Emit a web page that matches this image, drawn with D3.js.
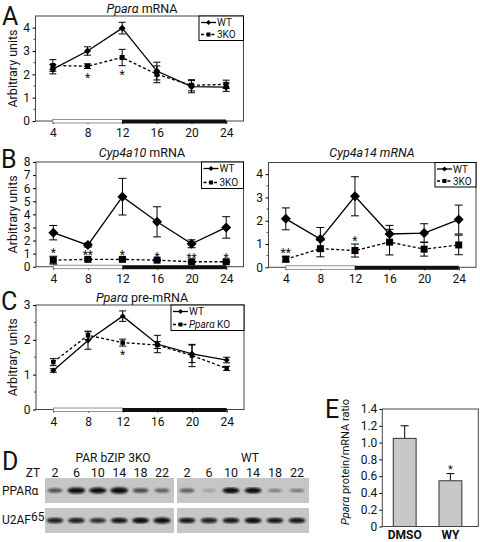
<!DOCTYPE html>
<html><head><meta charset="utf-8">
<script src="https://cdn.jsdelivr.net/npm/d3@7"></script>
<style>
body{margin:0;background:#fff}
svg{display:block}
text{font-family:Roboto,"Liberation Sans",Arial,sans-serif;fill:#111}
</style>
</head><body><svg id="c" width="480" height="542"></svg>
<script>
// ---------- DATA ----------
const hours = [4, 8, 12, 16, 20, 24];

// A: Ppar-alpha mRNA
const aWT = [2.22, 3.0, 3.98, 2.14, 1.47, 1.45];
const aWTErr = [0.2, 0.18, 0.25, 0.38, 0.26, 0.18];
const aKO = [2.38, 2.35, 2.72, 2.0, 1.53, 1.57];
const aKOErr = [0.25, 0.1, 0.35, 0.36, 0.24, 0.18];
const aStars = ["", "*", "*", "", "", ""];

// B left: Cyp4a10 mRNA
const b10WT = [2.6, 1.65, 5.35, 3.43, 1.75, 3.0];
const b10WTErr = [0.55, 0.15, 1.4, 1.15, 0.3, 0.82];
const b10KO = [0.5, 0.56, 0.56, 0.5, 0.38, 0.38];
const b10KOErr = [0.3, 0.08, 0.08, 0.05, 0.05, 0.05];
const b10Stars = ["*", "**", "*", "*", "**", "*"];

// B right: Cyp4a14 mRNA
const b14WT = [2.08, 1.21, 3.05, 1.43, 1.47, 2.05];
const b14WTErr = [0.47, 0.5, 0.84, 0.37, 0.4, 0.62];
const b14KO = [0.35, 0.8, 0.72, 1.08, 0.78, 0.96];
const b14KOErr = [0.12, 0.35, 0.28, 0.55, 0.3, 0.42];
const b14Stars = ["**", "", "*", "", "", ""];

// C: Ppar-alpha pre-mRNA
const cWT = [1.12, 1.98, 2.68, 1.88, 1.6, 1.42];
const cWTErr = [0.05, 0.25, 0.15, 0.25, 0.25, 0.08];
const cKO = [1.36, 2.13, 1.92, 1.85, 1.55, 1.18];
const cKOErr = [0.1, 0.12, 0.1, 0.1, 0.32, 0.06];
const cStars = ["", "", "*", "", "", ""];

// D: western blot (band intensity 0..1)
const ztLanes = ["2", "6", "10", "14", "18", "22"];
const pparKO = [0.5, 0.95, 0.9, 1.0, 0.55, 0.45];
const pparWT = [0.45, 0.1, 0.85, 0.85, 0.25, 0.3];
const u2afKO = [0.75, 0.75, 0.7, 0.8, 0.85, 0.9];
const u2afWT = [0.8, 0.75, 0.8, 0.85, 0.8, 0.8];

// E: protein/mRNA ratio
const eCats = ["DMSO", "WY"];
const eVals = [1.05, 0.545];
const eErr = [0.15, 0.085];
const eStars = ["", "*"];
const eTicks = [0, 0.2, 0.4, 0.6, 0.8, 1.0, 1.2, 1.4];

// ---------- DRAW ----------
const svg = d3.select("#c");
const FS = 12;

function richText(sel, parts) {
  parts.forEach(p => sel.append("tspan").text(p.t).attr("font-style", p.i ? "italic" : "normal"));
  return sel;
}
function letter(t, x, y) {
  svg.append("text").attr("x", x).attr("y", y).attr("font-size", 25).attr("font-family", "Liberation Sans, Arial, sans-serif").text(t);
}
const diamond = r => `M0,${-r}L${r},0L0,${r}L${-r},0Z`;
const square = s => `M${-s/2},${-s/2}h${s}v${s}h${-s}Z`;

function linePanel(cfg) {
  const x = d3.scaleLinear().domain([2, 26]).range([cfg.left, cfg.right]);
  const y = d3.scaleLinear().domain([0, cfg.ymax]).range([cfg.bottom, cfg.top]);
  const g = svg.append("g");
  g.append("rect").attr("x", cfg.left).attr("y", cfg.top)
    .attr("width", cfg.right - cfg.left).attr("height", cfg.bottom - cfg.top)
    .attr("fill", "none").attr("stroke", "#444").attr("stroke-width", 1);
  const ya = g.append("g").attr("transform", `translate(${cfg.left},0)`)
    .call(d3.axisLeft(y).tickValues(cfg.yticks).tickSize(3).tickPadding(2.5).tickFormat(d3.format("d")));
  ya.select(".domain").remove();
  ya.selectAll("text").attr("font-size", FS);
  if (cfg.minor) {
    g.selectAll(".mn").data(cfg.minor).join("line")
      .attr("x1", cfg.left - 2).attr("x2", cfg.left)
      .attr("y1", d => y(d)).attr("y2", d => y(d)).attr("stroke", "#444");
  }
  const xa = g.append("g").attr("transform", `translate(0,${cfg.bottom})`)
    .call(d3.axisBottom(x).tickValues(hours).tickSize(3).tickPadding(4.5));
  xa.select(".domain").remove();
  xa.selectAll("text").attr("font-size", FS);
  g.append("rect").attr("x", x(4)).attr("y", cfg.bottom - 1.5).attr("width", x(12) - x(4)).attr("height", 3.5)
    .attr("fill", "#fff").attr("stroke", "#777").attr("stroke-width", 0.8);
  g.append("rect").attr("x", x(12)).attr("y", cfg.bottom - 1.5).attr("width", x(24) - x(12)).attr("height", 4)
    .attr("fill", "#111");
  richText(g.append("text").attr("x", cfg.titleX).attr("y", cfg.titleY).attr("text-anchor", "middle")
    .attr("font-size", 12.5), cfg.title);
  if (cfg.ylabel) {
    g.append("text").attr("transform", `translate(${cfg.ylabelX},${(cfg.top + cfg.bottom) / 2}) rotate(-90)`)
      .attr("text-anchor", "middle").attr("font-size", 12.5).text("Arbitrary units");
  }
  const m = cfg.mk;
  const series = [
    {v: cfg.wt, e: cfg.wtErr, dash: null, shape: diamond(m.r)},
    {v: cfg.ko, e: cfg.koErr, dash: "3,2.2", shape: square(m.s)}
  ];
  series.forEach(s => {
    const line = d3.line().x((d, i) => x(hours[i])).y(d => y(d));
    g.append("path").attr("d", line(s.v)).attr("fill", "none").attr("stroke", "#000")
      .attr("stroke-width", 1.3).attr("stroke-dasharray", s.dash);
    s.v.forEach((v, i) => {
      const cx = x(hours[i]);
      const y1 = y(v - s.e[i]), y2 = y(v + s.e[i]);
      g.append("line").attr("x1", cx).attr("x2", cx).attr("y1", y1).attr("y2", y2).attr("stroke", "#000").attr("stroke-width", 1);
      [y1, y2].forEach(yy => g.append("line").attr("x1", cx - m.cap).attr("x2", cx + m.cap)
        .attr("y1", yy).attr("y2", yy).attr("stroke", "#000").attr("stroke-width", 1));
    });
  });
  series.forEach(s => {
    s.v.forEach((v, i) => g.append("path").attr("d", s.shape)
      .attr("transform", `translate(${x(hours[i])},${y(v)})`).attr("fill", "#000"));
  });
  cfg.stars.forEach((st, i) => {
    if (!st) return;
    const v = cfg.ko[i], e = cfg.koErr[i];
    const yy = cfg.starPos === "below" ? y(v - e) + 13 : y(v + e) + 1;
    g.append("text").attr("x", x(hours[i])).attr("y", yy).attr("text-anchor", "middle")
      .attr("font-size", 12).text(st);
  });
  const L = cfg.legend;
  g.append("rect").attr("x", L.x0).attr("y", L.y0).attr("width", L.x1 - L.x0).attr("height", L.y1 - L.y0)
    .attr("fill", "#fff").attr("stroke", "#000").attr("stroke-width", 1);
  const rows = [L.y0 + 6.5, L.y1 - 6];
  [{dash: null, shape: diamond(2.5), lab: L.labels[0]}, {dash: "3,2.2", shape: square(4), lab: L.labels[1]}]
    .forEach((r, k) => {
      const yy = rows[k];
      g.append("line").attr("x1", L.x0 + 2).attr("x2", L.x0 + 17).attr("y1", yy).attr("y2", yy)
        .attr("stroke", "#000").attr("stroke-width", 1.3).attr("stroke-dasharray", r.dash);
      g.append("path").attr("d", r.shape).attr("transform", `translate(${L.x0 + 9.5},${yy})`);
      richText(g.append("text").attr("x", L.x0 + 18).attr("y", yy + 3.6).attr("font-size", 10), r.lab);
    });
}

linePanel({left: 35.5, right: 243.5, top: 16, bottom: 121, ymax: 4.5, yticks: [0, 1, 2, 3, 4],
  minor: [0.5, 1.5, 2.5, 3.5],
  title: [{t: "Pparα", i: true}, {t: " mRNA"}], titleX: 142, titleY: 13,
  ylabel: true, ylabelX: 17,
  wt: aWT, wtErr: aWTErr, ko: aKO, koErr: aKOErr, stars: aStars, starPos: "below",
  mk: {r: 3.5, s: 5, cap: 3.5},
  legend: {x0: 199, y0: 16, x1: 243.5, y1: 40.5, labels: [[{t: "WT"}], [{t: "3KO"}]]}});

linePanel({left: 36, right: 243.5, top: 162, bottom: 266.7, ymax: 8, yticks: [0, 1, 2, 3, 4, 5, 6, 7, 8],
  title: [{t: "Cyp4a10", i: true}, {t: " mRNA"}], titleX: 142, titleY: 157,
  ylabel: true, ylabelX: 17,
  wt: b10WT, wtErr: b10WTErr, ko: b10KO, koErr: b10KOErr, stars: b10Stars, starPos: "above",
  mk: {r: 5, s: 7, cap: 4},
  legend: {x0: 201.5, y0: 162, x1: 243.5, y1: 188.5, labels: [[{t: "WT"}], [{t: "3KO"}]]}});

linePanel({left: 268.5, right: 476, top: 162.5, bottom: 267.3, ymax: 4.5, yticks: [0, 1, 2, 3, 4],
  minor: [0.5, 1.5, 2.5, 3.5],
  title: [{t: "Cyp4a14 mRNA", i: true}], titleX: 372, titleY: 157,
  ylabel: false,
  wt: b14WT, wtErr: b14WTErr, ko: b14KO, koErr: b14KOErr, stars: b14Stars, starPos: "above",
  mk: {r: 5, s: 7, cap: 4},
  legend: {x0: 435, y0: 162.5, x1: 476, y1: 187, labels: [[{t: "WT"}], [{t: "3KO"}]]}});

linePanel({left: 36, right: 244, top: 305, bottom: 409.5, ymax: 3, yticks: [0, 1, 2, 3],
  minor: [0.5, 1.5, 2.5],
  title: [{t: "Pparα", i: true}, {t: " pre-mRNA"}], titleX: 142, titleY: 302,
  ylabel: true, ylabelX: 17,
  wt: cWT, wtErr: cWTErr, ko: cKO, koErr: cKOErr, stars: cStars, starPos: "below",
  mk: {r: 3, s: 4.5, cap: 3.5},
  legend: {x0: 171, y0: 305, x1: 244, y1: 330.5, labels: [[{t: "WT"}], [{t: "Pparα", i: true}, {t: " KO"}]]}});

letter("A", 2, 25);
letter("B", 1, 168);
letter("C", 1, 310);
letter("D", 2, 470);
letter("E", 325, 418);

// ---------- D: blot ----------
const defs = svg.append("defs");
defs.append("filter").attr("id", "blur").append("feGaussianBlur").attr("stdDeviation", 0.9);
const lane3KO = d3.scalePoint().domain(ztLanes).range([55, 162]);
const laneWT = d3.scalePoint().domain(ztLanes).range([187, 297]);
svg.append("text").attr("x", 113).attr("y", 462).attr("text-anchor", "middle").attr("font-size", 12).text("PAR bZIP 3KO");
svg.append("text").attr("x", 250).attr("y", 462).attr("text-anchor", "middle").attr("font-size", 12).text("WT");
svg.append("text").attr("x", 33).attr("y", 477).attr("text-anchor", "middle").attr("font-size", 12).text("ZT");
[lane3KO, laneWT].forEach(sc => ztLanes.forEach(z =>
  svg.append("text").attr("x", sc(z)).attr("y", 477).attr("text-anchor", "middle").attr("font-size", 12.5).text(z)));
svg.append("text").attr("x", 2).attr("y", 495).attr("font-size", 12).text("PPARα");
const u2 = svg.append("text").attr("x", 2).attr("y", 524).attr("font-size", 12);
u2.append("tspan").text("U2AF");
u2.append("tspan").attr("dy", -3).text("65");

const blotRows = [
  {y0: 478, y1: 503, ko: pparKO, wt: pparWT},
  {y0: 508, y1: 533, ko: u2afKO, wt: u2afWT}
];
blotRows.forEach(r => {
  [[45, 174, lane3KO, r.ko], [177, 309, laneWT, r.wt]].forEach(([xa, xb, sc, vals]) => {
    svg.append("rect").attr("x", xa).attr("y", r.y0).attr("width", xb - xa).attr("height", r.y1 - r.y0).attr("fill", "#c6c6c6");
    const cy = (r.y0 + r.y1) / 2;
    ztLanes.forEach((z, i) => {
      const v = vals[i];
      svg.append("ellipse").attr("cx", sc(z)).attr("cy", cy).attr("rx", 6.5 + 2.5 * v).attr("ry", 1.2 + 2 * v)
        .attr("fill", "#111").attr("opacity", Math.min(1, 0.15 + v)).attr("filter", "url(#blur)");
    });
  });
});

// ---------- E: bar chart ----------
const ex = d3.scaleBand().domain(eCats).range([382.3, 478.3]).paddingInner(0.5).paddingOuter(0.3).align(0.4);
const ey = d3.scaleLinear().domain([0, 1.4]).range([526.5, 409]);
const eg = svg.append("g");
const eya = eg.append("g").attr("transform", "translate(382.3,0)")
  .call(d3.axisLeft(ey).tickValues(eTicks).tickSize(3).tickPadding(2).tickFormat(d => d === 0 ? "0" : d.toFixed(1)));
eya.select(".domain").remove();
eya.selectAll("text").attr("font-size", FS);
eCats.forEach((c, i) => {
  const cx = ex(c) + ex.bandwidth() / 2;
  eg.append("line").attr("x1", cx).attr("x2", cx).attr("y1", ey(eVals[i])).attr("y2", ey(eVals[i] + eErr[i])).attr("stroke", "#000");
  eg.append("line").attr("x1", cx - 4).attr("x2", cx + 4).attr("y1", ey(eVals[i] + eErr[i])).attr("y2", ey(eVals[i] + eErr[i])).attr("stroke", "#000");
  eg.append("rect").attr("x", ex(c)).attr("y", ey(eVals[i])).attr("width", ex.bandwidth()).attr("height", ey(0) - ey(eVals[i]))
    .attr("fill", "#c8c8c8").attr("stroke", "#333").attr("stroke-width", 1);
  if (eStars[i]) eg.append("text").attr("x", cx).attr("y", ey(eVals[i] + eErr[i]) - 1).attr("text-anchor", "middle").attr("font-size", 11).text(eStars[i]);
  eg.append("text").attr("x", cx).attr("y", 539).attr("text-anchor", "middle").attr("font-size", 12).attr("font-weight", "bold").text(c);
});
eg.append("rect").attr("x", 382.3).attr("y", 409).attr("width", 96).attr("height", 117.5).attr("fill", "none").attr("stroke", "#444");
richText(eg.append("text").attr("transform", "translate(349,462) rotate(-90)").attr("text-anchor", "middle").attr("font-size", 11),
  [{t: "Pparα", i: true}, {t: " protein/mRNA ratio"}]);
</script>
</body></html>
